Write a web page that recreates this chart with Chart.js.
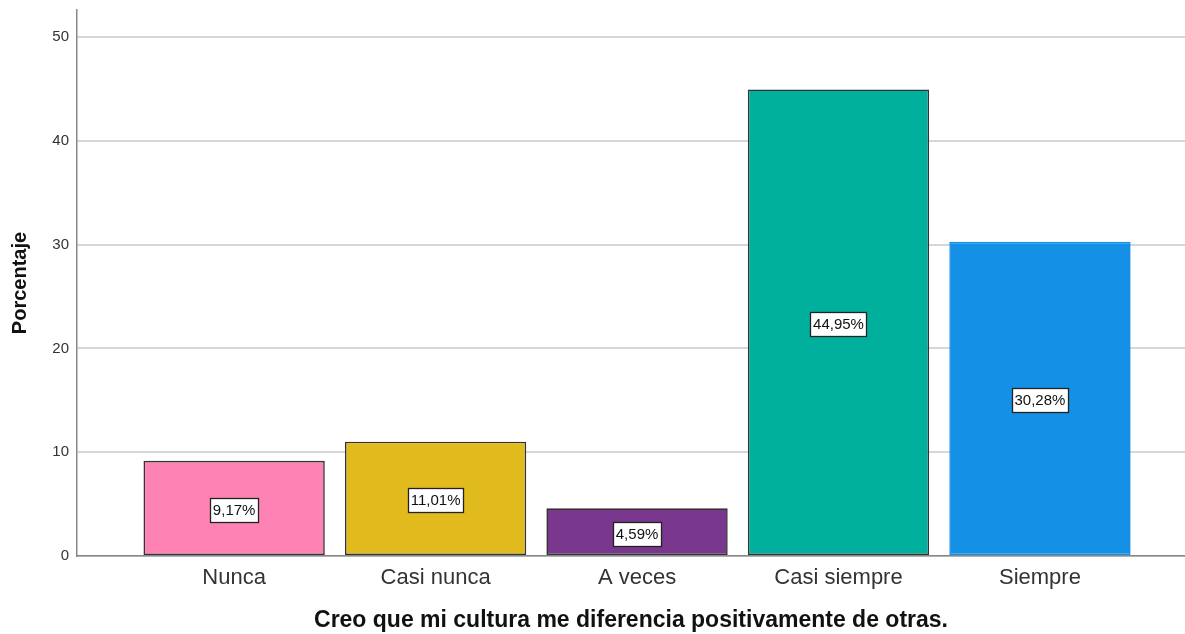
<!DOCTYPE html>
<html lang="es">
<head>
    <meta charset="UTF-8">
    <title>Creo que mi cultura me diferencia positivamente de otras</title>
    <script src="https://cdn.jsdelivr.net/npm/chart.js"></script>
    <style>
        html, body { margin: 0; padding: 0; background: #fff; }
        #wrap { width: 1185px; height: 634px; position: relative; }
    </style>
</head>
<body>
    <div id="wrap"><canvas id="chart"></canvas></div>

    <script>
        // data
        const categories = ['Nunca', 'Casi nunca', 'A veces', 'Casi siempre', 'Siempre'];
        const percentages = [9.17, 11.01, 4.59, 44.95, 30.28];
        const yTicks = [0, 10, 20, 30, 40, 50];

        const fillColors = ['#FF82B4', '#E1BA1E', '#79378D', '#00B09C', '#1490E6'];
        const edgeColors = ['#333333', '#333333', '#333333', '#333333', '#1490E6'];

        const FONT = '"Liberation Sans", Arial, sans-serif';

        // white boxed value labels in the middle of each bar
        const valueBoxes = {
            id: 'valueBoxes',
            afterDatasetsDraw(chart) {
                const ctx = chart.ctx;
                const meta = chart.getDatasetMeta(0);
                ctx.save();
                ctx.font = '15px ' + FONT;
                ctx.textAlign = 'center';
                ctx.textBaseline = 'middle';
                meta.data.forEach((bar, i) => {
                    const txt = percentages[i].toFixed(2).replace('.', ',') + '%';
                    const w = Math.round(ctx.measureText(txt).width + 5);
                    const h = 24;
                    const cx = bar.x;
                    const cy = (bar.y + bar.base) / 2 + 2;
                    const x0 = Math.round(cx - w / 2) + 0.5;
                    const y0 = Math.round(cy - h / 2) + 0.5;
                    ctx.fillStyle = '#ffffff';
                    ctx.fillRect(x0, y0, w, h);
                    ctx.strokeStyle = '#222222';
                    ctx.lineWidth = 1.3;
                    ctx.strokeRect(x0, y0, w, h);
                    ctx.fillStyle = '#111111';
                    ctx.fillText(txt, cx, cy + 1);
                });
                ctx.restore();
            }
        };

        new Chart(document.getElementById('chart'), {
            type: 'bar',
            data: {
                datasets: [{
                    data: percentages.map((v, i) => ({ x: i, y: v })),
                    backgroundColor: fillColors,
                    borderColor: edgeColors,
                    borderWidth: 1.6,
                    borderSkipped: false,
                    barPercentage: 0.9,
                    categoryPercentage: 1.0
                }]
            },
            options: {
                responsive: true,
                maintainAspectRatio: false,
                animation: false,
                layout: { padding: { top: 10, right: 0, left: 0, bottom: 0 } },
                plugins: {
                    legend: { display: false },
                    tooltip: { enabled: false }
                },
                scales: {
                    x: {
                        type: 'linear',
                        offset: false,
                        min: -0.78,
                        max: 4.72,
                        grid: { display: false, drawTicks: false, offset: false },
                        border: { display: true, color: '#888888', width: 1.5 },
                        ticks: {
                            stepSize: 1,
                            includeBounds: false,
                            autoSkip: false,
                            maxRotation: 0,
                            padding: 9,
                            color: '#333333',
                            font: { family: FONT, size: 22 },
                            callback: (v) => categories[v] ?? ''
                        },
                        title: {
                            display: true,
                            text: 'Creo que mi cultura me diferencia positivamente de otras.',
                            color: '#111111',
                            font: { family: FONT, size: 23, weight: 'bold' },
                            padding: { top: 0, bottom: 0 }
                        },
                        afterFit(scale) { scale.height = 78; }
                    },
                    y: {
                        min: 0,
                        max: 52.6,
                        grid: { color: '#d6d6d6', lineWidth: 2, drawTicks: false },
                        border: { display: true, color: '#888888', width: 1.5 },
                        afterBuildTicks(scale) { scale.ticks = yTicks.map(v => ({ value: v })); },
                        ticks: {
                            padding: 8,
                            color: '#333333',
                            font: { family: FONT, size: 15 }
                        },
                        title: {
                            display: true,
                            text: 'Porcentaje',
                            color: '#111111',
                            font: { family: FONT, size: 20, weight: 'bold' },
                            padding: { top: 8, bottom: 0 }
                        },
                        afterFit(scale) {
                            scale.width = 77;
                            scale.paddingTop = 0;
                            scale.paddingBottom = 0;
                        }
                    }
                }
            },
            plugins: [valueBoxes]
        });
    </script>
</body>
</html>
